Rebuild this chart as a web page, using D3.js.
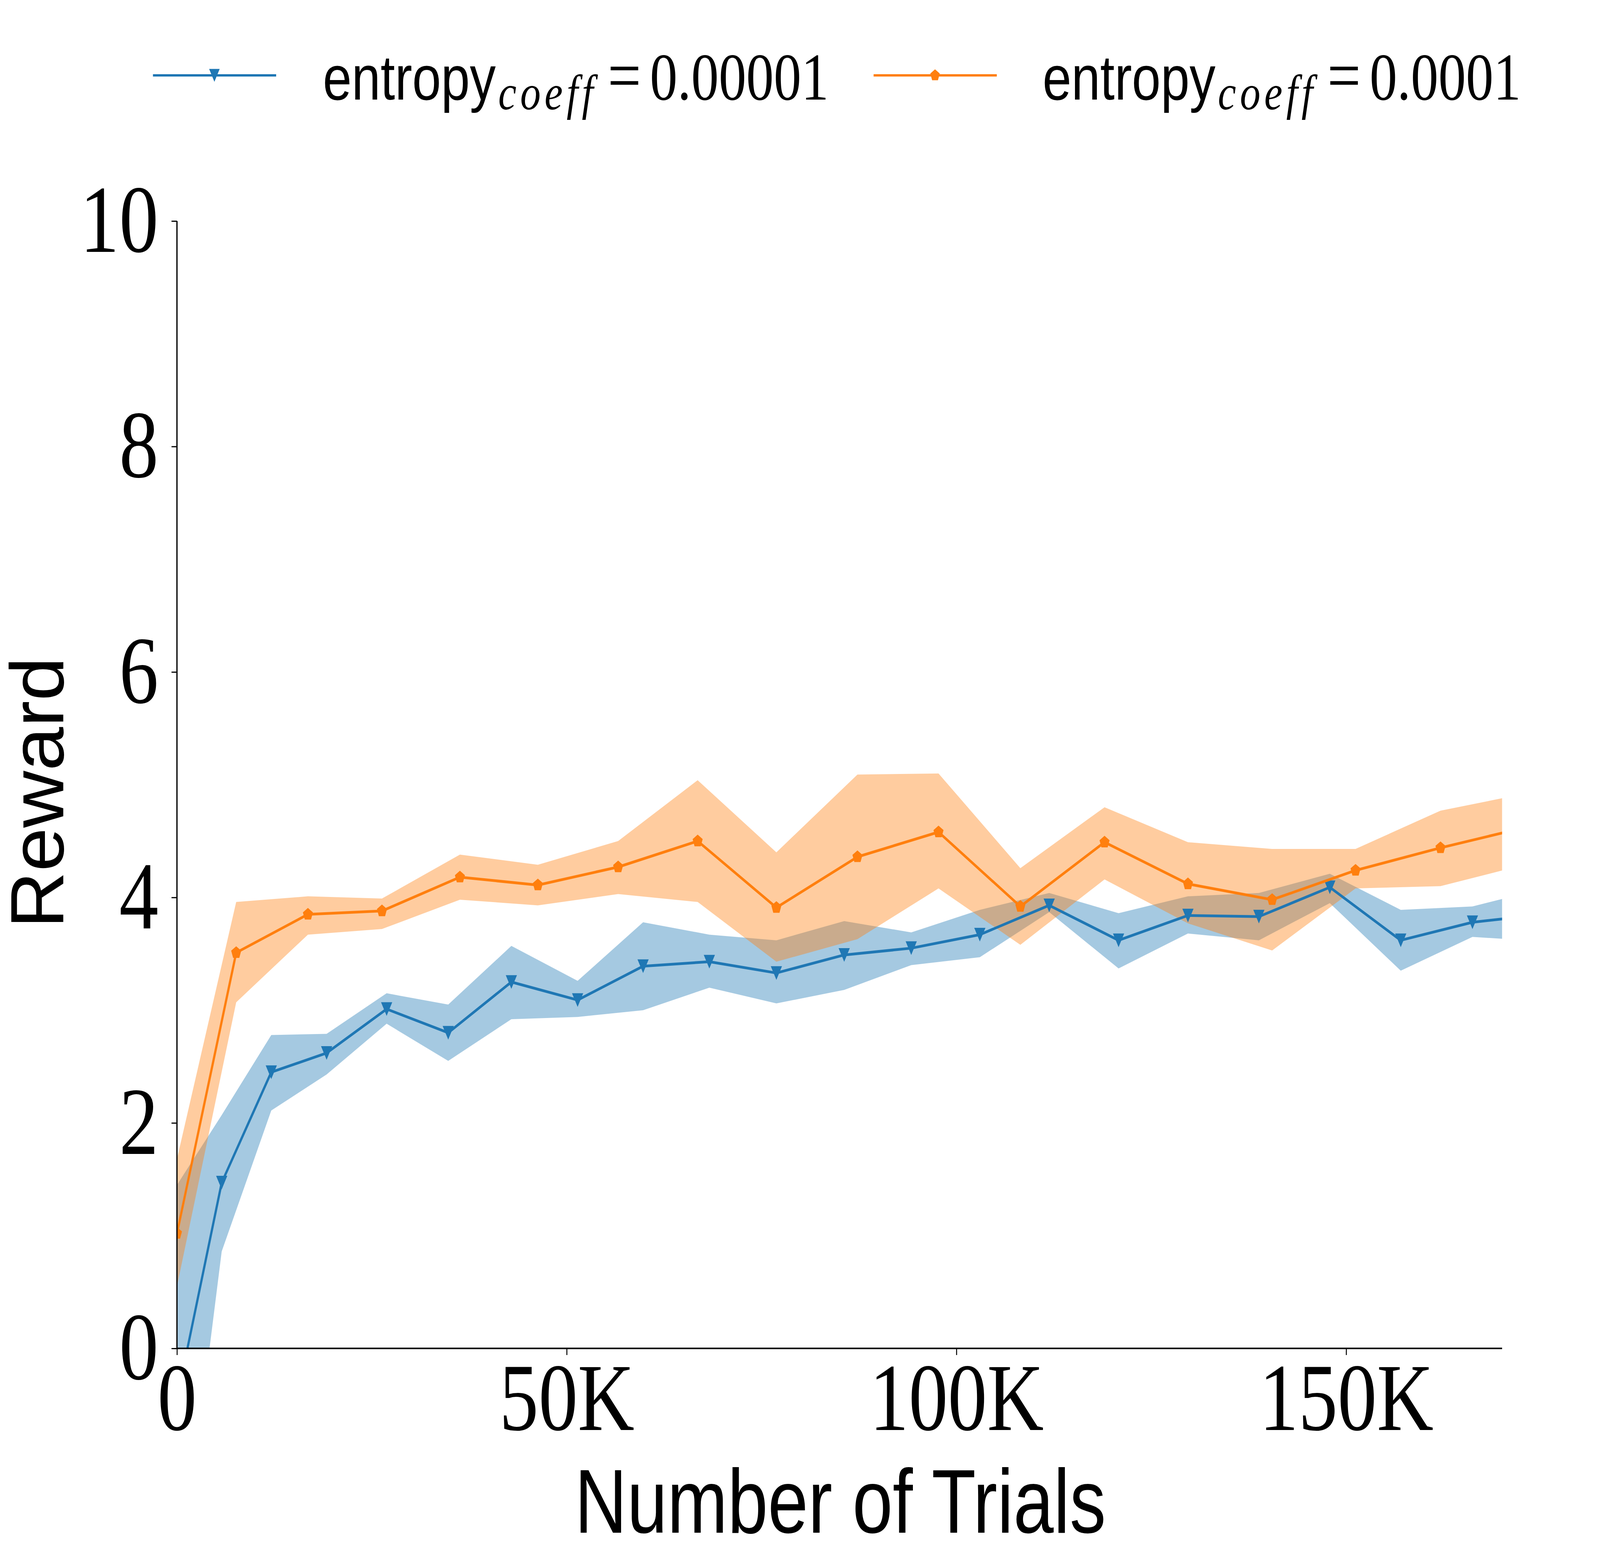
<!DOCTYPE html>
<html lang="en">
<head>
<meta charset="UTF-8">
<title>Reward vs Number of Trials</title>
<script src="https://d3js.org/d3.v7.min.js"></script>
<style>
  html, body { margin: 0; padding: 0; background: #fff; overflow: hidden; }
  svg { display: block; width: 100vw; height: 100vh; }
</style>
</head>
<body>
<svg viewBox="0 0 5000 4000" preserveAspectRatio="none"></svg>
<script>
// ---- data ----
const blueX    = [0, 5740, 12100, 19200, 26900, 34800, 42900, 51400, 59800, 68300, 76900, 85600, 94200, 103000, 111900, 120800, 129700, 138800, 147900, 157000, 166200, 175400];
const blueMean = [-0.45, 1.47, 2.45, 2.62, 3.01, 2.80, 3.25, 3.09, 3.39, 3.43, 3.33, 3.49, 3.55, 3.67, 3.93, 3.62, 3.84, 3.83, 4.09, 3.62, 3.78, 3.85];
const blueLo   = [-2.30, 0.86, 2.11, 2.43, 2.88, 2.55, 2.92, 2.94, 3.00, 3.20, 3.06, 3.18, 3.40, 3.47, 3.87, 3.37, 3.68, 3.62, 3.95, 3.35, 3.65, 3.61];
const blueHi   = [1.45, 2.07, 2.78, 2.79, 3.15, 3.05, 3.57, 3.26, 3.78, 3.67, 3.62, 3.79, 3.69, 3.89, 4.04, 3.86, 4.01, 4.04, 4.21, 3.89, 3.92, 4.08];

const orangeX    = [0, 7600, 16800, 26300, 36300, 46300, 56600, 66800, 76900, 87300, 97700, 108200, 119000, 129700, 140500, 151200, 162100, 172900];
const orangeMean = [1.02, 3.51, 3.85, 3.88, 4.18, 4.11, 4.27, 4.50, 3.91, 4.36, 4.58, 3.92, 4.49, 4.12, 3.98, 4.24, 4.44, 4.62];
const orangeLo   = [0.55, 3.07, 3.67, 3.72, 3.98, 3.93, 4.03, 3.96, 3.43, 3.63, 4.08, 3.58, 4.16, 3.77, 3.53, 4.08, 4.10, 4.29];
const orangeHi   = [1.68, 3.96, 4.01, 3.99, 4.38, 4.29, 4.50, 5.04, 4.40, 5.09, 5.10, 4.26, 4.80, 4.49, 4.43, 4.43, 4.77, 4.92];

const xTicks = [0, 50000, 100000, 150000];
const xTickLabels = ["0", "50K", "100K", "150K"];
const yTicks = [0, 2, 4, 6, 8, 10];

const seriesNames = ["0.00001", "0.0001"];

// ---- layout (in viewBox units, 5000 x 4000) ----
const svg = d3.select("svg");
const plotLeft = 553, plotRight = 4694, plotTop = 566, plotBottom = 3453;

const x = d3.scaleLinear().domain([0, 170000]).range([plotLeft, plotRight]);
const y = d3.scaleLinear().domain([0, 10]).range([plotBottom, plotTop]);

const BLUE = "#1f77b4", ORANGE = "#ff7f0e";

svg.append("defs").append("clipPath").attr("id", "plotclip")
  .append("rect").attr("x", plotLeft).attr("y", plotTop)
  .attr("width", plotRight - plotLeft).attr("height", plotBottom - plotTop);

function rows(xs, m, lo, hi) {
  return xs.map((v, i) => ({ x: v, m: m[i], lo: lo[i], hi: hi[i] }));
}
const blue = rows(blueX, blueMean, blueLo, blueHi);
const orange = rows(orangeX, orangeMean, orangeLo, orangeHi);

const area = d3.area().x(d => x(d.x)).y0(d => y(d.lo)).y1(d => y(d.hi));
const line = d3.line().x(d => x(d.x)).y(d => y(d.m));

// marker shapes (matplotlib 'v' and 'p')
function triDown(s) {
  const h = s / 2;
  return `M${-h},${-h}L${h},${-h}L0,${h}Z`;
}
function pentagon(s) {
  const r = s / 2;
  let p = "";
  for (let k = 0; k < 5; k++) {
    const a = (-90 + k * 72) * Math.PI / 180;
    p += (k ? "L" : "M") + (r * Math.cos(a)).toFixed(2) + "," + (r * Math.sin(a)).toFixed(2);
  }
  return p + "Z";
}

const plot = svg.append("g").attr("clip-path", "url(#plotclip)");

// bands
plot.append("path").datum(blue).attr("d", area)
  .attr("fill", BLUE).attr("fill-opacity", 0.4);
plot.append("path").datum(orange).attr("d", area)
  .attr("fill", ORANGE).attr("fill-opacity", 0.4);

// lines + markers
function drawSeries(data, color, shape) {
  plot.append("path").datum(data).attr("d", line)
    .attr("fill", "none").attr("stroke", color).attr("stroke-width", 7)
    .attr("stroke-linejoin", "round");
  plot.selectAll(null).data(data).enter().append("path")
    .attr("transform", d => `translate(${x(d.x)},${y(d.m)})`)
    .attr("d", shape).attr("fill", color);
}
drawSeries(blue, BLUE, triDown(35));
drawSeries(orange, ORANGE, pentagon(33));

// axes
const serif = "'Liberation Serif', 'DejaVu Serif', serif";
const sans = "'Liberation Sans', 'DejaVu Sans', sans-serif";

const yAxis = svg.append("g").attr("transform", `translate(${plotLeft},0)`)
  .call(d3.axisLeft(y).tickValues(yTicks).tickFormat(d3.format("d"))
    .tickSize(17).tickPadding(41));
const xAxis = svg.append("g").attr("transform", `translate(0,${plotBottom})`)
  .call(d3.axisBottom(x).tickValues(xTicks).tickFormat((d, i) => xTickLabels[i])
    .tickSize(17).tickPadding(18));

[yAxis, xAxis].forEach(g => {
  g.select(".domain").attr("stroke", "#000").attr("stroke-width", 4);
  g.selectAll(".tick line").attr("stroke", "#000").attr("stroke-width", 3);
  g.selectAll(".tick text").attr("font-family", serif).attr("font-size", 245).attr("fill", "#000");
});
// spines without outer tick stubs
xAxis.select(".domain").attr("d", `M${plotLeft},0H${plotRight}`);
yAxis.select(".domain").attr("d", `M0,${plotBottom}V${plotTop}`);

// axis titles
svg.append("text")
  .attr("transform", `translate(198,2030) rotate(-90)`)
  .attr("text-anchor", "middle")
  .attr("font-family", sans).attr("font-size", 235)
  .attr("textLength", 695).attr("lengthAdjust", "spacingAndGlyphs")
  .text("Reward");

svg.append("text")
  .attr("x", 2626).attr("y", 3925)
  .attr("text-anchor", "middle")
  .attr("font-family", sans).attr("font-size", 232)
  .attr("textLength", 1660).attr("lengthAdjust", "spacingAndGlyphs")
  .text("Number of Trials");

// legend
const legendItems = [
  { name: seriesNames[0], color: BLUE, shape: triDown(33), x0: 478, tx: 1009 },
  { name: seriesNames[1], color: ORANGE, shape: pentagon(31), x0: 2730, tx: 3258 }
];
const ly = 193, lbase = 255;
legendItems.forEach(it => {
  svg.append("line").attr("x1", it.x0).attr("x2", it.x0 + 385)
    .attr("y1", ly).attr("y2", ly)
    .attr("stroke", it.color).attr("stroke-width", 6);
  svg.append("path").attr("transform", `translate(${it.x0 + 192},${ly})`)
    .attr("d", it.shape).attr("fill", it.color);
  const t = svg.append("text").attr("fill", "#000");
  t.append("tspan").attr("x", it.tx).attr("y", lbase)
    .attr("font-family", sans).attr("font-size", 162).text("entropy");
  t.append("tspan").attr("x", it.tx + 548).attr("y", lbase + 25)
    .attr("font-family", serif).attr("font-style", "italic")
    .attr("font-size", 128).attr("letter-spacing", 12).text("coeff");
  t.append("tspan").attr("x", it.tx + 890).attr("y", lbase)
    .attr("font-family", serif).attr("font-size", 185).text("=");
  t.append("tspan").attr("x", it.tx + 1022).attr("y", lbase)
    .attr("font-family", serif).attr("font-size", 172).text(it.name);
});
</script>
</body>
</html>
